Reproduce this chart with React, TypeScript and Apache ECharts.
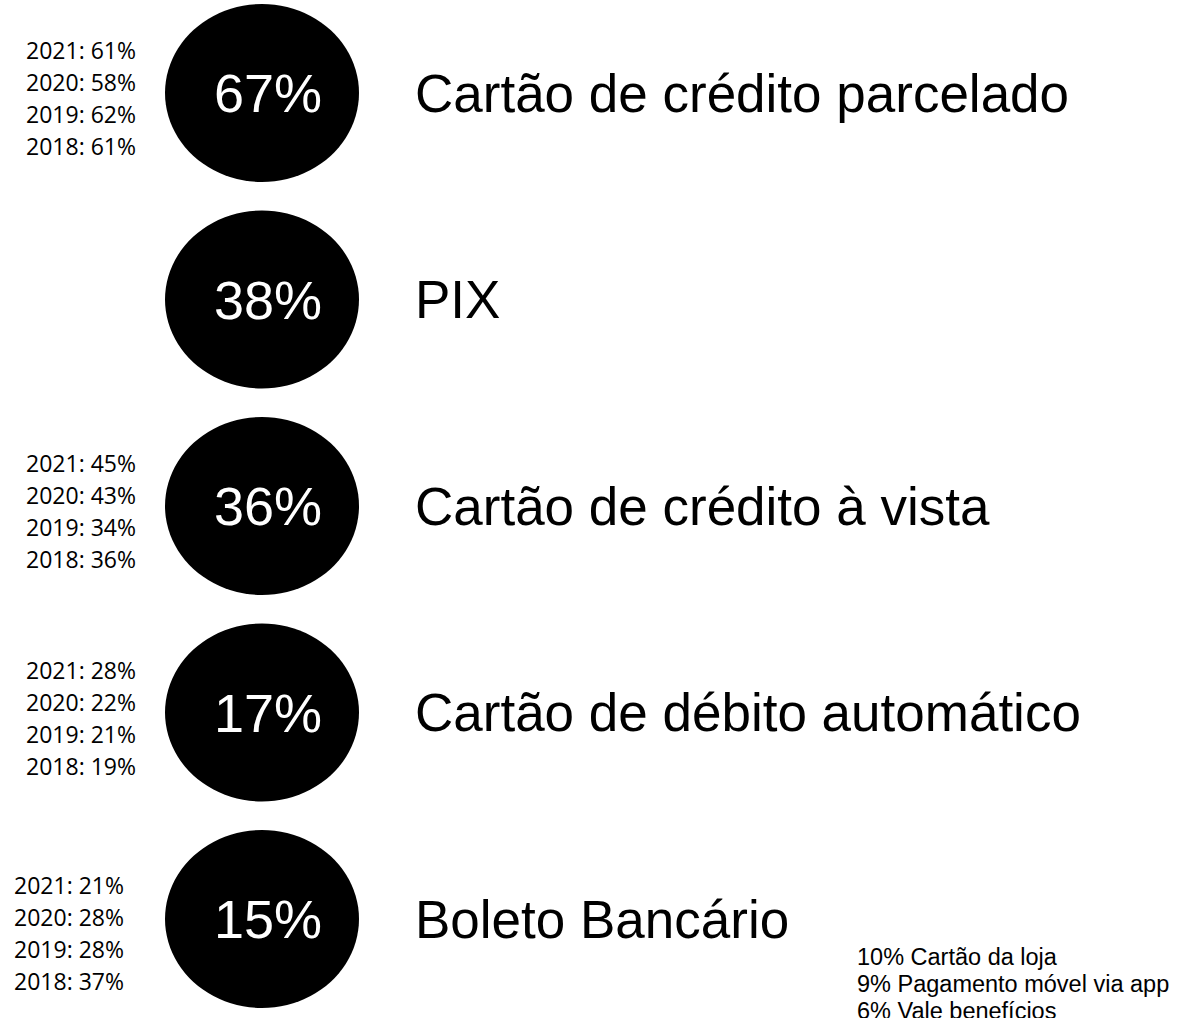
import React, { useEffect, useRef } from "react";
import * as echarts from "echarts";

const categories = [
  "Cartão de crédito parcelado",
  "PIX",
  "Cartão de crédito à vista",
  "Cartão de débito automático",
  "Boleto Bancário",
];
const currentValues = [67, 38, 36, 17, 15];
const historyYears = ["2021", "2020", "2019", "2018"];
const historyValues: number[][] = [
  [61, 58, 62, 61],
  [],
  [45, 43, 34, 36],
  [28, 22, 21, 19],
  [21, 28, 28, 37],
];
const otherLabels = ["Cartão da loja", "Pagamento móvel via app", "Vale benefícios"];
const otherValues = [10, 9, 6];

const SANS = "Liberation Sans, Arial, Helvetica, sans-serif";
const YEAR_FONT = "Open Sans, Noto Sans, sans-serif";

export default function App() {
  const ref = useRef<HTMLDivElement>(null);
  useEffect(() => {
    if (!ref.current) return;
    const chart = echarts.init(ref.current, null, { renderer: "svg" });
    const symbolSize = [194, 178];
    const points = categories.map((c, i) => [0, c, currentValues[i], i]);
    chart.setOption({
      animation: false,
      backgroundColor: "#ffffff",
      title: {
        text: otherLabels.map((l, i) => `${otherValues[i]}% ${l}`).join("\n"),
        left: 857,
        top: 943,
        padding: 0,
        textStyle: {
          fontFamily: SANS,
          fontSize: 23.5,
          fontWeight: "normal",
          color: "#000",
          lineHeight: 27,
        },
      },
      grid: { left: 262, width: 100, top: 93, height: 826 },
      xAxis: { type: "value", min: 0, max: 10, show: false },
      yAxis: {
        type: "category",
        data: categories,
        inverse: true,
        boundaryGap: false,
        show: false,
      },
      series: [
        {
          type: "scatter",
          name: "circles",
          symbol: "circle",
          symbolSize,
          silent: true,
          itemStyle: { color: "#000000", opacity: 1 },
          data: points,
          label: {
            show: true,
            position: "inside",
            offset: [6, 0],
            formatter: (p: any) => `${p.value[2]}%`,
            color: "#ffffff",
            opacity: 1,
            fontFamily: SANS,
            fontSize: 54,
          },
        },
        {
          type: "scatter",
          name: "names",
          symbol: "circle",
          symbolSize,
          silent: true,
          itemStyle: { color: "rgba(0,0,0,0)", opacity: 1 },
          data: points,
          label: {
            show: true,
            position: "right",
            distance: 56,
            formatter: (p: any) => p.value[1],
            color: "#000000",
            opacity: 1,
            fontFamily: SANS,
            fontSize: 53,
          },
        },
        {
          type: "scatter",
          name: "history",
          symbol: "circle",
          symbolSize,
          silent: true,
          itemStyle: { color: "rgba(0,0,0,0)", opacity: 1 },
          data: points.map((pt, i) => ({
            value: pt,
            label: i === 4 ? { offset: [-12, 14] } : { offset: [0, 5] },
          })),
          label: {
            show: true,
            position: "left",
            distance: 29,
            align: "right",
            formatter: (p: any) =>
              historyValues[p.value[3]]
                .map((v, k) => `${historyYears[k]}: ${v}%`)
                .join("\n"),
            color: "#000000",
            opacity: 1,
            fontFamily: YEAR_FONT,
            fontSize: 23,
            lineHeight: 32,
          },
        },
      ],
    });
    return () => chart.dispose();
  }, []);
  return (
    <div
      ref={ref}
      style={{ position: "fixed", left: 0, top: 0, width: 1183, height: 1018 }}
    />
  );
}
